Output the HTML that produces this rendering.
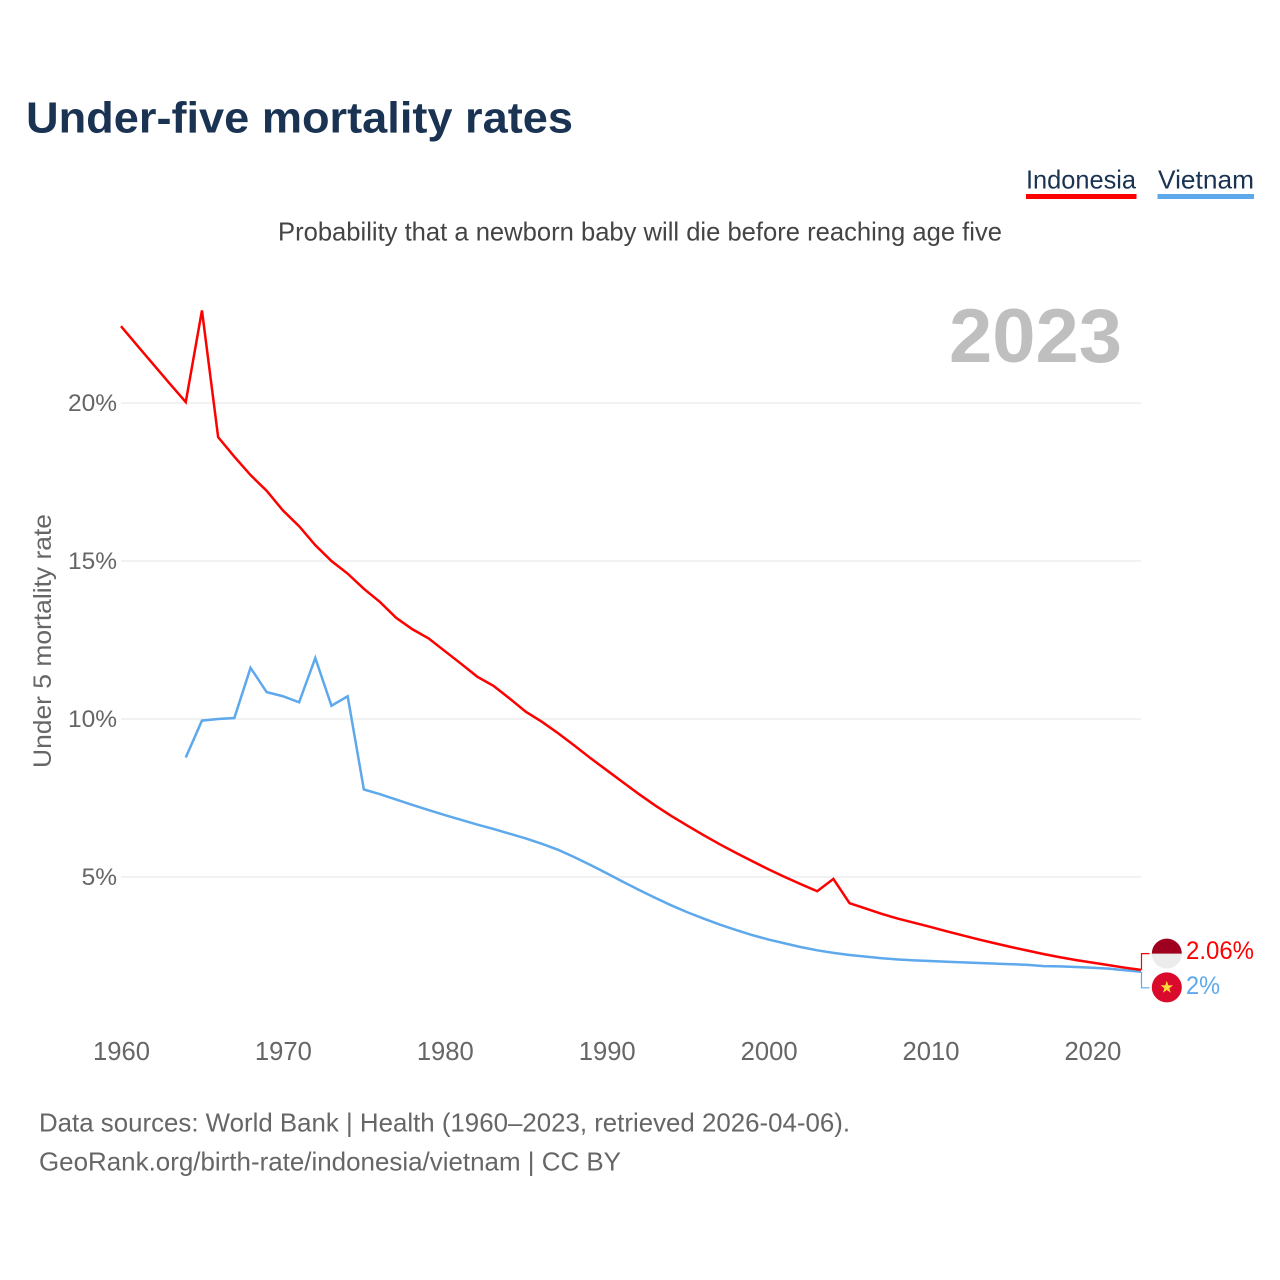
<!DOCTYPE html>
<html lang="en">
<head>
<meta charset="utf-8">
<title>Under-five mortality rates</title>
<style>
html,body{margin:0;padding:0;background:#fff;width:1280px;height:1280px;overflow:hidden}
svg{display:block}
text{font-family:"Liberation Sans",sans-serif}
</style>
</head>
<body>
<svg id="chart" xmlns="http://www.w3.org/2000/svg" width="1280" height="1280" viewBox="0 0 1280 1280">
  <rect width="1280" height="1280" fill="#fff"/>
  <text x="26" y="132.5" font-size="44" font-weight="700" fill="#1a3353" textLength="547" lengthAdjust="spacingAndGlyphs">Under-five mortality rates</text>
  <g>
    <g>
      <text x="1026" y="188.5" font-size="26" fill="#1a3353" textLength="110" lengthAdjust="spacingAndGlyphs">Indonesia</text>
      <rect x="1026" y="194" width="110.5" height="5" fill="#ff0000"/>
    </g>
    <g>
      <text x="1158" y="188.5" font-size="26" fill="#1a3353" textLength="96" lengthAdjust="spacingAndGlyphs">Vietnam</text>
      <rect x="1157.5" y="194" width="96.5" height="5" fill="#5ea8ec"/>
    </g>
  </g>
  <text x="278" y="240.5" font-size="26" fill="#444" textLength="724" lengthAdjust="spacingAndGlyphs">Probability that a newborn baby will die before reaching age five</text>
  <text x="949" y="362" font-size="76" font-weight="700" fill="#bfbfbf" textLength="173" lengthAdjust="spacingAndGlyphs">2023</text>
  <text transform="translate(51,768) rotate(-90)" x="0" y="0" font-size="25" fill="#666" textLength="254" lengthAdjust="spacingAndGlyphs">Under 5 mortality rate</text>
  <g id="grid"></g>
  <g id="yticks"></g>
  <g id="xticks"></g>
  <g id="series"></g>
  <g id="ends"></g>
  <text x="39" y="1131.5" font-size="26" fill="#666" textLength="811" lengthAdjust="spacingAndGlyphs">Data sources: World Bank | Health (1960–2023, retrieved 2026-04-06).</text>
  <text x="39" y="1170.5" font-size="26" fill="#666" textLength="582" lengthAdjust="spacingAndGlyphs">GeoRank.org/birth-rate/indonesia/vietnam | CC BY</text>
</svg>
<script>
const startYear = 1960;
const yTickValues = [5, 10, 15, 20];
const xTickYears = [1960, 1970, 1980, 1990, 2000, 2010, 2020];
const indonesia = [
  22.43, 21.82, 21.22, 20.62, 20.03, 22.93, 18.92, 18.3, 17.72, 17.22,
  16.6, 16.1, 15.5, 15.0, 14.6, 14.12, 13.7, 13.2, 12.84, 12.55,
  12.15, 11.75, 11.34, 11.05, 10.65, 10.23, 9.91, 9.55, 9.16, 8.76,
  8.38, 8.0, 7.62, 7.26, 6.93, 6.62, 6.32, 6.03, 5.76, 5.5,
  5.24, 5.0, 4.77, 4.55, 4.94, 4.17, 4.0, 3.83, 3.68, 3.55,
  3.42, 3.28, 3.15, 3.02, 2.9, 2.78, 2.67, 2.56, 2.46, 2.37,
  2.29, 2.21, 2.13, 2.06
];
const vietnam = [
  null, null, null, null, 8.78, 9.95, 10.0, 10.03, 11.62, 10.85,
  10.72, 10.53, 11.93, 10.42, 10.72, 7.77, 7.62, 7.45, 7.28, 7.12,
  6.96, 6.81, 6.66, 6.52, 6.37, 6.22, 6.05, 5.86, 5.63, 5.38,
  5.12, 4.85, 4.59, 4.34, 4.1, 3.88, 3.68, 3.49, 3.32, 3.16,
  3.02, 2.9, 2.78, 2.68, 2.6, 2.53, 2.48, 2.43, 2.39, 2.36,
  2.34, 2.32, 2.3, 2.28, 2.26, 2.24, 2.22, 2.18, 2.17, 2.15,
  2.13, 2.1, 2.05, 2.0
];
const endValueLabels = ["2.06%", "2%"];

const NS = "http://www.w3.org/2000/svg";
function x(year) { return 121 + (year - 1960) * (1020 / 63); }
function y(value) { return 1035 - value * 31.6; }
function make(tag, attrs, parent) {
  const el = document.createElementNS(NS, tag);
  for (const k in attrs) el.setAttribute(k, attrs[k]);
  parent.appendChild(el);
  return el;
}
function linePath(values) {
  let d = "";
  values.forEach(function (v, i) {
    if (v === null) return;
    d += (d ? "L" : "M") + x(startYear + i).toFixed(2) + " " + y(v).toFixed(2);
  });
  return d;
}

const grid = document.getElementById("grid");
const yticks = document.getElementById("yticks");
const xticks = document.getElementById("xticks");
const series = document.getElementById("series");
const ends = document.getElementById("ends");

yTickValues.forEach(function (v) {
  const ln = make("line", {x1: 121, x2: 1141, y1: y(v), y2: y(v), stroke: "#eeeeee", "stroke-width": 1.6}, grid);
  
  
  const t = make("text", {x: 117, y: y(v) + 8, "text-anchor": "end", "font-size": 24.5, fill: "#666"}, yticks);
  
  
  t.textContent = v + "%";
});

xTickYears.forEach(function (yr) {
  const t = make("text", {x: x(yr) + 0.5, y: 1060, "text-anchor": "middle", "font-size": 25.6, fill: "#666"}, xticks);
  
  
  t.textContent = yr;
});

const lastYear = startYear + indonesia.length - 1;
const lastX = x(lastYear) + 0.5;
const idEnd = y(indonesia[indonesia.length - 1]);
const vnEnd = y(vietnam[vietnam.length - 1]);

const idConn = make("path", {d: "M" + lastX + " " + idEnd + "V" + (idEnd - 16.3) + "H" + (lastX + 8), fill: "none", stroke: "#ff0000", "stroke-width": 1.2}, ends);


const vnConn = make("path", {d: "M" + lastX + " " + vnEnd + "V" + (vnEnd + 16) + "H" + (lastX + 8), fill: "none", stroke: "#5ea8ec", "stroke-width": 1.2}, ends);



const vnLine = make("path", {d: linePath(vietnam), fill: "none", stroke: "#5ea8ec", "stroke-width": 2.5}, series);


const idLine = make("path", {d: linePath(indonesia), fill: "none", stroke: "#ff0000", "stroke-width": 2.5}, series);



const fx = x(lastYear) + 25.8;
const idFlagY = idEnd - 16.3;
const vnFlagY = vnEnd + 15.6;

const idFlag = make("g", {}, ends);


make("circle", {cx: fx, cy: idFlagY, r: 15, fill: "#ececec"}, idFlag);
make("path", {d: "M" + (fx - 15) + " " + idFlagY + "A15 15 0 0 1 " + (fx + 15) + " " + idFlagY + "Z", fill: "#a00020"}, idFlag);

const vnFlag = make("g", {}, ends);


make("circle", {cx: fx, cy: vnFlagY, r: 15, fill: "#da0a2c"}, vnFlag);
let star = "";
for (let i = 0; i < 10; i++) {
  const r = i % 2 ? 2.6 : 6.6;
  const a = -Math.PI / 2 + i * Math.PI / 5;
  star += (i ? "L" : "M") + (fx + r * Math.cos(a)).toFixed(2) + " " + (vnFlagY + r * Math.sin(a)).toFixed(2);
}
make("path", {d: star + "Z", fill: "#ffd83a"}, vnFlag);

const idVal = make("text", {x: 1186, y: 959, "font-size": 25, fill: "#ff0000", textLength: 68, lengthAdjust: "spacingAndGlyphs"}, ends);


idVal.textContent = endValueLabels[0];
const vnVal = make("text", {x: 1186, y: 994, "font-size": 25, fill: "#5ea8ec", textLength: 34, lengthAdjust: "spacingAndGlyphs"}, ends);


vnVal.textContent = endValueLabels[1];
</script>
</body>
</html>
